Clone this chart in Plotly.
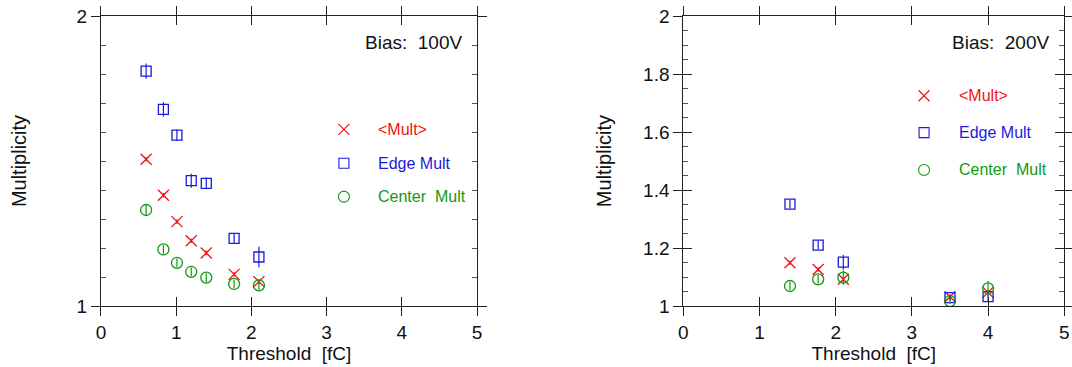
import plotly.graph_objects as go

# ---------------- data ----------------
thr_100 = [0.60, 0.83, 1.01, 1.20, 1.40, 1.77, 2.10]
mult_100 = [1.506, 1.382, 1.291, 1.225, 1.183, 1.109, 1.084]
mult_100_err = [0.008, 0.008, 0.008, 0.008, 0.008, 0.008, 0.008]
edge_100 = [1.810, 1.678, 1.589, 1.432, 1.423, 1.233, 1.169]
edge_100_err = [0.026, 0.025, 0.020, 0.024, 0.020, 0.018, 0.035]
center_100 = [1.331, 1.195, 1.149, 1.118, 1.098, 1.076, 1.071]
center_100_err = [0.020, 0.015, 0.015, 0.015, 0.015, 0.015, 0.015]

thr_200 = [1.40, 1.77, 2.10, 3.50, 4.00]
mult_200 = [1.149, 1.126, 1.092, 1.032, 1.047]
mult_200_err = [0.008, 0.008, 0.008, 0.008, 0.008]
edge_200 = [1.351, 1.210, 1.151, 1.029, 1.032]
edge_200_err = [0.015, 0.015, 0.025, 0.010, 0.015]
center_200 = [1.069, 1.092, 1.098, 1.017, 1.061]
center_200_err = [0.015, 0.015, 0.025, 0.010, 0.025]

series_names = ["<Mult>", "Edge Mult", "Center\u00a0 Mult"]
bias_labels = ["Bias:\u00a0 100V", "Bias:\u00a0 200V"]

# legend key placement (data coords of each panel)
legend_x_100, legend_tx_100, legend_y_100 = 3.23, 3.66, [1.609, 1.492, 1.377]
legend_x_200, legend_tx_200, legend_y_200 = 3.16, 3.59, [1.725, 1.598, 1.469]

RED = "#ee1111"
BLUE = "#1a1ae0"
GREEN = "#119911"
colors = [RED, BLUE, GREEN]
symbols = ["x-thin-open", "square-open", "circle-open"]
sizes = [11, 10, 11]
FONT = "Liberation Sans, Arial, sans-serif"
AX = "#222222"

fig = go.Figure()

panels = [
    ("x", "y", thr_100, [(mult_100, mult_100_err), (edge_100, edge_100_err), (center_100, center_100_err)],
     legend_x_100, legend_tx_100, legend_y_100, bias_labels[0]),
    ("x2", "y2", thr_200, [(mult_200, mult_200_err), (edge_200, edge_200_err), (center_200, center_200_err)],
     legend_x_200, legend_tx_200, legend_y_200, bias_labels[1]),
]

annotations = []
for xa, ya, thr, series, lx, ltx, ly, bias in panels:
    for i, (vals, errs) in enumerate(series):
        fig.add_trace(go.Scatter(
            x=thr, y=vals, xaxis=xa, yaxis=ya, mode="markers",
            marker=dict(symbol=symbols[i], size=sizes[i], color=colors[i],
                        line=dict(width=1.3, color=colors[i])),
            error_y=dict(type="data", array=errs, visible=True, color=colors[i],
                         thickness=1.2, width=0),
            showlegend=False, hoverinfo="x+y"))
        fig.add_trace(go.Scatter(
            x=[lx], y=[ly[i]], xaxis=xa, yaxis=ya, mode="markers",
            marker=dict(symbol=symbols[i], size=sizes[i], color=colors[i],
                        line=dict(width=1.1, color=colors[i])),
            showlegend=False, hoverinfo="skip"))
        annotations.append(dict(x=ltx, y=ly[i], xref=xa, yref=ya, text=series_names[i],
                                showarrow=False, xanchor="left", yanchor="middle",
                                font=dict(family=FONT, size=16, color=colors[i])))
    annotations.append(dict(x=4.82, y=1.91, xref=xa, yref=ya, text=bias,
                            showarrow=False, xanchor="right", yanchor="middle",
                            font=dict(family=FONT, size=19, color="#111111")))

# dummy traces for overlay axes (inside ticks)
fig.add_trace(go.Scatter(x=[None], y=[None], xaxis="x3", yaxis="y3", showlegend=False, hoverinfo="skip"))
fig.add_trace(go.Scatter(x=[None], y=[None], xaxis="x4", yaxis="y4", showlegend=False, hoverinfo="skip"))

ydom = [0.1662, 0.9564]
xdom1 = [0.0942, 0.4450]
xdom2 = [0.6374, 0.9928]

tickfont = dict(family=FONT, size=19, color="#111111")
xtitlefont = dict(family=FONT, size=19, color="#111111")
ytitlefont = dict(family=FONT, size=20, color="#111111")

def xaxis_main(dom, anchor):
    return dict(domain=dom, anchor=anchor, range=[0, 5], tickvals=[0, 1, 2, 3, 4, 5],
                ticks="outside", ticklen=9, tickwidth=1, tickcolor=AX,
                showline=True, linecolor=AX, linewidth=1, mirror="ticks",
                showgrid=False, zeroline=False, tickfont=tickfont, automargin=False,
                title=dict(text="Threshold\u00a0 [fC]", font=xtitlefont, standoff=1))

def xaxis_in(dom, anchor, over):
    return dict(domain=dom, anchor=anchor, overlaying=over, range=[0, 5], tickvals=[0, 1, 2, 3, 4, 5],
                ticks="inside", ticklen=9, tickwidth=1, tickcolor=AX,
                showline=False, mirror="ticks", showgrid=False, zeroline=False,
                showticklabels=False, automargin=False)

fig.update_layout(
    width=1072, height=367,
    margin=dict(l=0, r=0, t=0, b=0),
    paper_bgcolor="white", plot_bgcolor="white",
    showlegend=False,
    xaxis=xaxis_main(xdom1, "y"),
    xaxis2=xaxis_main(xdom2, "y2"),
    xaxis3=xaxis_in(xdom1, "y3", "x"),
    xaxis4=xaxis_in(xdom2, "y4", "x2"),
    yaxis=dict(domain=ydom, anchor="x", range=[1, 2], tickvals=[1, 2],
               ticks="outside", ticklen=9, tickwidth=1, tickcolor=AX,
               showline=True, linecolor=AX, linewidth=1, mirror="ticks",
               showgrid=False, zeroline=False, tickfont=tickfont, automargin=False,
               title=dict(text="Multiplicity", font=ytitlefont, standoff=44)),
    yaxis3=dict(domain=ydom, anchor="x3", overlaying="y", range=[1, 2], tickvals=[1, 2],
                ticks="inside", ticklen=9, tickwidth=1, tickcolor=AX,
                showline=False, mirror="ticks", showgrid=False, zeroline=False,
                showticklabels=False, automargin=False,
                minor=dict(tickvals=[1.1, 1.2, 1.3, 1.4, 1.5, 1.6, 1.7, 1.8, 1.9],
                           ticks="inside", ticklen=5, tickcolor="#555555", tickwidth=1)),
    yaxis2=dict(domain=ydom, anchor="x2", range=[1, 2],
                tickvals=[1, 1.2, 1.4, 1.6, 1.8, 2], ticktext=["1", "1.2", "1.4", "1.6", "1.8", "2"],
                ticks="outside", ticklen=9, tickwidth=1, tickcolor=AX,
                showline=True, linecolor=AX, linewidth=1, mirror="ticks",
                showgrid=False, zeroline=False, tickfont=tickfont, automargin=False,
                title=dict(text="Multiplicity", font=ytitlefont, standoff=26)),
    yaxis4=dict(domain=ydom, anchor="x4", overlaying="y2", range=[1, 2],
                tickvals=[1, 1.2, 1.4, 1.6, 1.8, 2],
                ticks="inside", ticklen=9, tickwidth=1, tickcolor=AX,
                showline=False, mirror="ticks", showgrid=False, zeroline=False,
                showticklabels=False, automargin=False,
                minor=dict(tickvals=[1.05, 1.1, 1.15, 1.25, 1.3, 1.35, 1.45, 1.5, 1.55,
                                     1.65, 1.7, 1.75, 1.85, 1.9, 1.95],
                           ticks="inside", ticklen=5, tickcolor="#555555", tickwidth=1)),
    annotations=annotations,
)

fig.write_html("out.html")
